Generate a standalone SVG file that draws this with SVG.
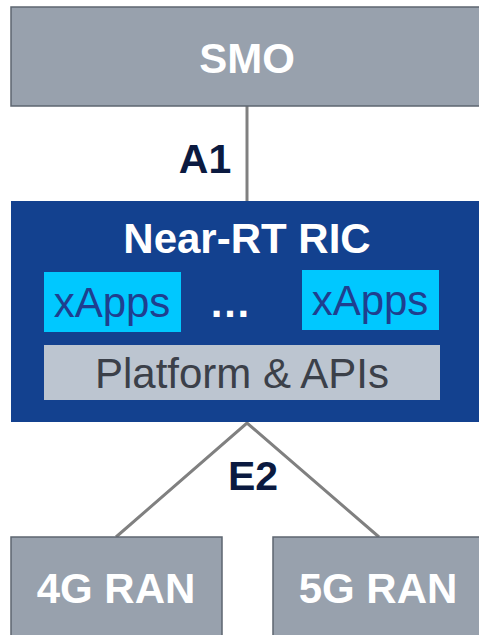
<svg xmlns="http://www.w3.org/2000/svg" width="479" height="635" viewBox="0 0 479 635">
<style>
.gray{fill:#98a1ad;stroke:#5d6670;stroke-width:1.5}
.wt{font-family:"Liberation Sans",Arial,sans-serif;font-weight:bold;fill:#ffffff;text-anchor:middle;font-size:42px}
.lbl{font-family:"Liberation Sans",Arial,sans-serif;font-weight:bold;fill:#0b1a40;text-anchor:middle;font-size:41px}
.conn{stroke:#808080;stroke-width:3;fill:none}
.app{fill:#00c8ff}
.appt{font-family:"Liberation Sans",Arial,sans-serif;fill:#1f3f8f;font-size:42px;text-anchor:middle}
</style>
<rect width="479" height="635" fill="#ffffff"/>
<g id="connectors">
<line class="conn" x1="247" y1="106" x2="247" y2="201"/>
<polyline class="conn" points="116,537 247,423 379,537"/>
<text class="lbl" x="205" y="173">A1</text>
<text class="lbl" x="253" y="490">E2</text>
</g>
<g id="smo">
<rect class="gray" x="11" y="7" width="480" height="99"/>
<text class="wt" x="247" y="73">SMO</text>
</g>
<g id="ric">
<rect x="11" y="201" width="480" height="221" fill="#13418f"/>
<text class="wt" x="247" y="253">Near-RT RIC</text>
<g id="xapps1">
<rect class="app" x="44" y="272" width="137" height="60"/>
<text class="appt" x="112" y="317">xApps</text>
</g>
<text class="wt" x="230" y="317">…</text>
<g id="xapps2">
<rect class="app" x="302" y="270" width="137" height="60"/>
<text class="appt" x="370" y="315">xApps</text>
</g>
<g id="platform">
<rect x="44" y="345" width="396" height="55" fill="#bcc5d0"/>
<text x="242" y="388" font-family="Liberation Sans,Arial,sans-serif" font-size="42" fill="#3b4049" text-anchor="middle">Platform &amp; APIs</text>
</g>
</g>
<g id="ran4g">
<rect class="gray" x="11" y="537" width="211" height="110"/>
<text class="wt" x="116" y="603">4G RAN</text>
</g>
<g id="ran5g">
<rect class="gray" x="273" y="537" width="220" height="110"/>
<text class="wt" x="378" y="603">5G RAN</text>
</g>
</svg>
